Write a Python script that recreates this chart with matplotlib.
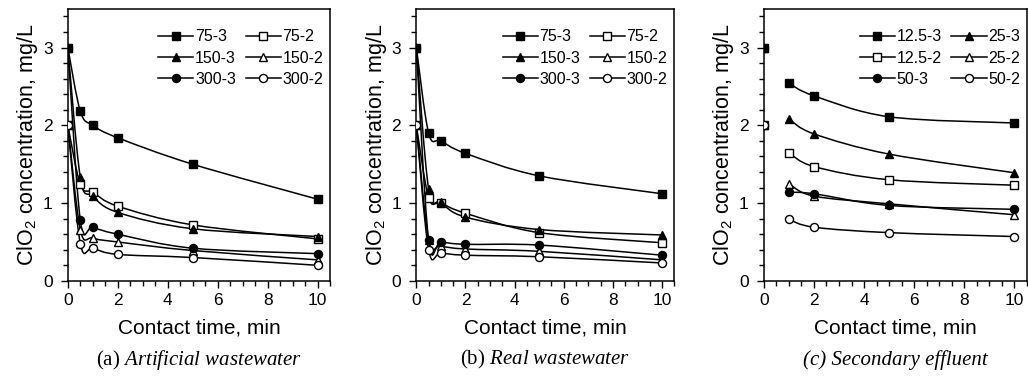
import matplotlib
matplotlib.use('Agg')
import matplotlib.pyplot as plt
import numpy as np
from matplotlib.lines import Line2D
from matplotlib.patches import PathPatch
from matplotlib.path import Path
from matplotlib.ticker import MultipleLocator

plt.rcParams['font.family'] = 'Liberation Sans'
plt.rcParams['mathtext.fontset'] = 'custom'
plt.rcParams['mathtext.rm'] = 'Liberation Serif'
plt.rcParams['mathtext.it'] = 'Liberation Serif:italic'

######### Data #########
time_ab = [0, 0.5, 1, 2, 5, 10]
time_c = [0, 1, 2, 5, 10]

# (a) artificial wastewater
a_75_3 = [3.0, 2.18, 2.0, 1.84, 1.5, 1.05]
a_75_2 = [2.0, 1.24, 1.14, 0.96, 0.72, 0.54]
a_150_3 = [3.0, 1.33, 1.09, 0.88, 0.67, 0.57]
a_150_2 = [2.0, 0.66, 0.55, 0.5, 0.39, 0.27]
a_300_3 = [3.0, 0.78, 0.69, 0.6, 0.42, 0.35]
a_300_2 = [2.0, 0.48, 0.42, 0.34, 0.3, 0.2]

# (b) real wastewater
b_75_3 = [3.0, 1.9, 1.8, 1.64, 1.35, 1.12]
b_75_2 = [2.0, 1.07, 1.0, 0.87, 0.62, 0.49]
b_150_3 = [3.0, 1.18, 1.01, 0.82, 0.66, 0.59]
b_150_2 = [2.0, 0.53, 0.45, 0.41, 0.38, 0.27]
b_300_3 = [3.0, 0.52, 0.5, 0.47, 0.46, 0.33]
b_300_2 = [2.0, 0.4, 0.36, 0.33, 0.31, 0.23]

# (c) secondary effluent
c_12_3 = [3.0, 2.54, 2.38, 2.11, 2.03]
c_12_2 = [2.0, 1.65, 1.47, 1.3, 1.23]
c_25_3 = [3.0, 2.08, 1.89, 1.63, 1.39]
c_25_2 = [2.0, 1.25, 1.09, 0.99, 0.85]
c_50_3 = [3.0, 1.14, 1.12, 0.97, 0.92]
c_50_2 = [2.0, 0.79, 0.69, 0.62, 0.57]

labels_ab = ['75-3', '75-2', '150-3', '150-2', '300-3', '300-2']
labels_c = ['12.5-3', '25-3', '12.5-2', '25-2', '50-3', '50-2']
titles = [('(a) ', 'Artificial wastewater'),
          ('(b) ', 'Real wastewater'),
          ('(c) ', 'Secondary effluent')]

STYLE = {
    '75-3': ('s', 'black'), '75-2': ('s', 'white'),
    '150-3': ('^', 'black'), '150-2': ('^', 'white'),
    '300-3': ('o', 'black'), '300-2': ('o', 'white'),
    '12.5-3': ('s', 'black'), '12.5-2': ('s', 'white'),
    '25-3': ('^', 'black'), '25-2': ('^', 'white'),
    '50-3': ('o', 'black'), '50-2': ('o', 'white'),
}
MS = 5.8


def smooth_path(x, y):
    # Excel-like smoothed line: cubic bezier through the points
    pts = np.column_stack([x, y]).astype(float)
    n = len(pts)
    verts = [pts[0]]
    codes = [Path.MOVETO]
    for i in range(n - 1):
        p0 = pts[i - 1] if i > 0 else pts[i]
        p1 = pts[i]
        p2 = pts[i + 1]
        p3 = pts[i + 2] if i + 2 < n else pts[i + 1]
        c1 = p1 + (p2 - p0) / 6.0
        c2 = p2 - (p3 - p1) / 6.0
        verts += [c1, c2, p2]
        codes += [Path.CURVE4] * 3
    return Path(verts, codes)


def draw_series(ax, x, y, label, line_from=0):
    marker, face = STYLE[label]
    patch = PathPatch(smooth_path(x[line_from:], y[line_from:]), facecolor='none',
                      edgecolor='black', lw=1.1, zorder=2)
    ax.add_patch(patch)
    ax.plot(x, y, linestyle='none', marker=marker, markersize=MS,
            markerfacecolor=face, markeredgecolor='black', markeredgewidth=1.0, zorder=3)


def legend_handle(label):
    marker, face = STYLE[label]
    return Line2D([], [], color='black', lw=1.1, marker=marker, markersize=MS,
                  markerfacecolor=face, markeredgecolor='black', markeredgewidth=1.0)


def style_axes(ax):
    ax.set_xlim(0, 10.5)
    ax.set_ylim(0, 3.5)
    ax.xaxis.set_major_locator(MultipleLocator(2))
    ax.xaxis.set_minor_locator(MultipleLocator(0.5))
    ax.yaxis.set_major_locator(MultipleLocator(1))
    ax.yaxis.set_minor_locator(MultipleLocator(0.2))
    ax.tick_params(which='both', direction='out', top=False, right=False,
                   width=1.0, labelsize=12.5)
    ax.tick_params(which='major', length=5)
    ax.tick_params(which='minor', length=3.5)
    ax.tick_params(axis='y', which='major', pad=6)
    for s in ax.spines.values():
        s.set_linewidth(1.1)
    ax.set_xlabel('Contact time, min', fontsize=15, labelpad=8)
    ax.set_ylabel(r'ClO$\mathregular{_2}$ concentration, mg/L', fontsize=15.5, labelpad=2)


def add_legend(ax, labels):
    # legend fills column-wise, reference reads row-wise
    order = labels[0::2] + labels[1::2]
    ax.legend([legend_handle(l) for l in order], order, ncol=2, frameon=False,
              fontsize=11.5, handlelength=2.2, handletextpad=0.1, columnspacing=0.6,
              labelspacing=0.4, loc='upper right', bbox_to_anchor=(1.01, 0.96),
              borderaxespad=0.2)


fig = plt.figure(figsize=(10.28, 3.78), dpi=100)
lefts = [0.066, 0.405, 0.743]
widths = [0.255, 0.251, 0.256]
axes = [fig.add_axes([l, 0.257, w, 0.72]) for l, w in zip(lefts, widths)]

series_a = [a_75_3, a_75_2, a_150_3, a_150_2, a_300_3, a_300_2]
series_b = [b_75_3, b_75_2, b_150_3, b_150_2, b_300_3, b_300_2]
series_c = [c_12_3, c_25_3, c_12_2, c_25_2, c_50_3, c_50_2]

for ax, series in zip(axes[:2], [series_a, series_b]):
    for lab, y in zip(labels_ab, series):
        draw_series(ax, time_ab, y, lab)
    style_axes(ax)
    add_legend(ax, labels_ab)

for lab, y in zip(labels_c, series_c):
    draw_series(axes[2], time_c, y, lab, line_from=1)
style_axes(axes[2])
add_legend(axes[2], labels_c)

for i, (ax, (pre, name)) in enumerate(zip(axes, titles)):
    if i < 2:
        txt = pre + r'$\mathit{' + name.replace(' ', r'\ ') + '}$'
        ax.text(0.5, -0.29, txt, transform=ax.transAxes, ha='center', va='center',
                fontsize=15, family='Liberation Serif')
    else:
        ax.text(0.5, -0.29, pre + name, transform=ax.transAxes, ha='center', va='center',
                fontsize=15, family='Liberation Serif', style='italic')

fig.savefig('out.png', dpi=100)
